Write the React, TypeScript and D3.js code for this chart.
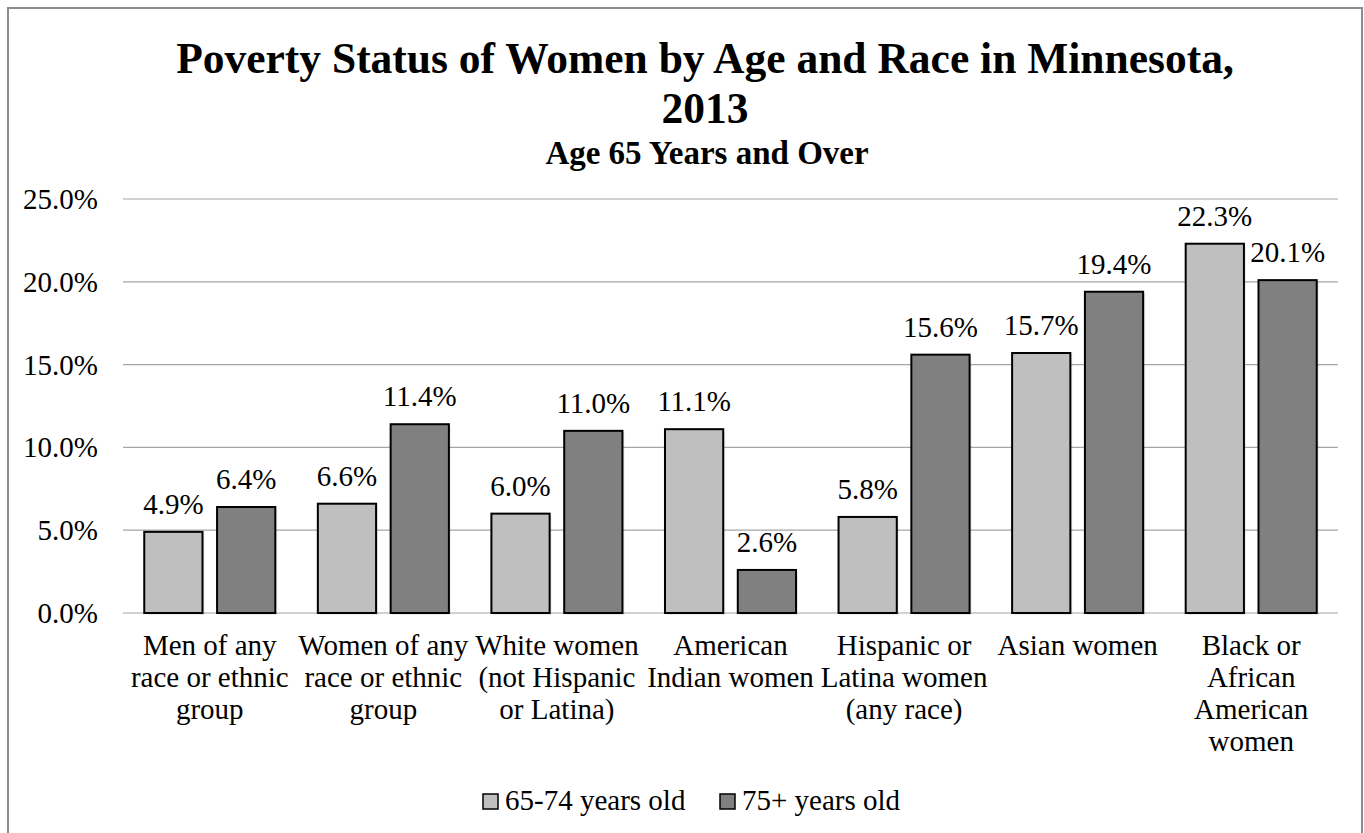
import React from 'react';
import * as d3 from 'd3';

// categories (x axis), one label line per array entry
const categories: string[][] = [
    ['Men of any', 'race or ethnic', 'group'],
    ['Women of any', 'race or ethnic', 'group'],
    ['White women', '(not Hispanic', 'or Latina)'],
    ['American', 'Indian women'],
    ['Hispanic or', 'Latina women', '(any race)'],
    ['Asian women'],
    ['Black or', 'African', 'American', 'women'],
];

// series values, in percent
const age65to74: number[] = [4.9, 6.6, 6.0, 11.1, 5.8, 15.7, 22.3];
const age75plus: number[] = [6.4, 11.4, 11.0, 2.6, 15.6, 19.4, 20.1];

const seriesNames: string[] = ['65-74 years old', '75+ years old'];
const seriesColors: string[] = ['#bfbfbf', '#808080'];

const yTicks: number[] = [0, 5, 10, 15, 20, 25];

const W = 1364;
const H = 833;
const font = "'Liberation Serif', 'Times New Roman', Times, serif";

export default function App() {
    const plotLeft = 123;
    const plotRight = 1338;
    const plotTop = 199;
    const plotBottom = 613;

    const yScale = d3.scaleLinear().domain([0, 25]).range([plotBottom, plotTop]);

    const catKeys = categories.map((_, i) => String(i));
    const xScale = d3.scaleBand<string>()
        .domain(catKeys)
        .range([plotLeft, plotRight])
        .paddingInner(0)
        .paddingOuter(0);

    // inner band for the two series inside each category
    const groupWidth = xScale.bandwidth() * 0.755;
    const xInner = d3.scaleBand<number>()
        .domain([0, 1])
        .range([0, groupWidth])
        .paddingInner(0.2);

    const series = [age65to74, age75plus];
    const txt = { fontFamily: font, fill: '#000' };
    const titleX = 705;

    return (
        <svg width={W} height={H} style={{ position: 'absolute', left: 0, top: 0, display: 'block', fontFamily: font }}>
            <rect x={0} y={0} width={W} height={H} fill='#ffffff' />
            {/* outer border */}
            <rect x={8} y={8} width={1354} height={H} fill='none' stroke='#8c8c8c' strokeWidth={2} />

            {/* titles */}
            <text x={titleX} y={73} textAnchor='middle' style={{ ...txt, fontWeight: 'bold', fontSize: 43.5 }}>
                Poverty Status of Women by Age and Race in Minnesota,
            </text>
            <text x={titleX} y={123} textAnchor='middle' style={{ ...txt, fontWeight: 'bold', fontSize: 43.5 }}>
                2013
            </text>
            <text x={titleX + 2} y={164} textAnchor='middle' style={{ ...txt, fontWeight: 'bold', fontSize: 33 }}>
                Age 65 Years and Over
            </text>

            {/* gridlines and y tick labels */}
            {yTicks.map(t => (
                <g key={t}>
                    <line x1={plotLeft} x2={plotRight} y1={yScale(t)} y2={yScale(t)}
                        stroke='#a6a6a6' strokeWidth={1.2} />
                    <text x={98} y={yScale(t) + 10} textAnchor='end' style={{ ...txt, fontSize: 29 }}>
                        {t.toFixed(1)}%
                    </text>
                </g>
            ))}

            {/* bars */}
            {catKeys.map((k, i) => {
                const gx = (xScale(k) as number) + (xScale.bandwidth() - groupWidth) / 2;
                return (
                    <g key={k}>
                        {series.map((s, j) => {
                            const x = gx + (xInner(j) as number);
                            const y = yScale(s[i]);
                            const bw = xInner.bandwidth();
                            return (
                                <g key={j}>
                                    <rect x={x + 2} y={y + 2} width={bw} height={plotBottom - y}
                                        fill='#000' opacity={0.08} />
                                    <rect x={x} y={y} width={bw} height={plotBottom - y}
                                        fill={seriesColors[j]} stroke='#000' strokeWidth={2} />
                                    <text x={x + bw / 2} y={y - 18} textAnchor='middle'
                                        style={{ ...txt, fontSize: 29 }}>
                                        {s[i].toFixed(1)}%
                                    </text>
                                </g>
                            );
                        })}
                    </g>
                );
            })}

            {/* category labels */}
            {categories.map((lines, i) => {
                const cx = (xScale(String(i)) as number) + xScale.bandwidth() / 2;
                return (
                    <text key={i} textAnchor='middle' style={{ ...txt, fontSize: 29 }}>
                        {lines.map((l, li) => (
                            <tspan key={li} x={cx} y={655 + li * 32}>{l}</tspan>
                        ))}
                    </text>
                );
            })}

            {/* legend */}
            {seriesNames.map((name, j) => {
                const lx = [483, 720][j];
                return (
                    <g key={name}>
                        <rect x={lx} y={794} width={15} height={15}
                            fill={seriesColors[j]} stroke='#000' strokeWidth={1.5} />
                        <text x={lx + 22} y={810} style={{ ...txt, fontSize: 29 }}>{name}</text>
                    </g>
                );
            })}
        </svg>
    );
}
